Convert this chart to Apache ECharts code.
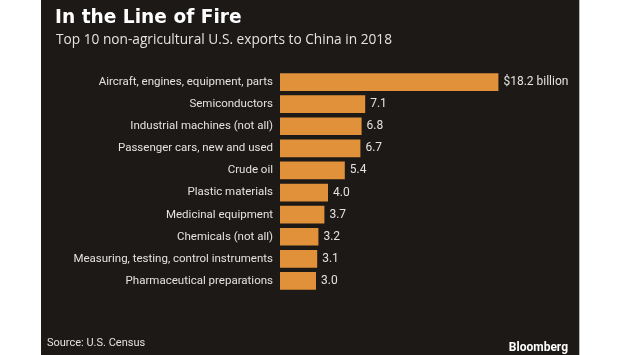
<!DOCTYPE html>
<html>
<head>
<meta charset="utf-8">
<script src="https://cdn.jsdelivr.net/npm/echarts@6/dist/echarts.min.js"></script>
<style>
html,body{margin:0;padding:0;background:#ffffff;}
#chart{width:620px;height:355px;}
</style>
</head>
<body>
<div id="chart"></div>
<script>
const categories = [
  "Aircraft, engines, equipment, parts",
  "Semiconductors",
  "Industrial machines (not all)",
  "Passenger cars, new and used",
  "Crude oil",
  "Plastic materials",
  "Medicinal equipment",
  "Chemicals (not all)",
  "Measuring, testing, control instruments",
  "Pharmaceutical preparations"
];
const values = [18.2, 7.1, 6.8, 6.7, 5.4, 4.0, 3.7, 3.2, 3.1, 3.0];
const valueLabels = ["$18.2 billion", "7.1", "6.8", "6.7", "5.4", "4.0", "3.7", "3.2", "3.1", "3.0"];

const chart = echarts.init(document.getElementById('chart'), null, {renderer: 'canvas'});
const textColor = '#e4e2df';
const font = 'Roboto';
chart.setOption({
  animation: false,
  backgroundColor: '#ffffff',
  graphic: [
    {type: 'rect', z: -10, shape: {x: 41, y: 0, width: 538, height: 355}, style: {fill: '#1c1917'}},
    {type: 'rect', z: -10, shape: {x: 579, y: 0, width: 1, height: 355}, style: {fill: '#b8b8b8'}},
    {type: 'text', left: 55, top: 9, style: {text: 'In the Line of Fire', fill: '#ffffff', font: 'bold 18.6px "DejaVu Sans"'}},
    {type: 'text', left: 56, top: 33, style: {text: 'Top 10 non-agricultural U.S. exports to China in 2018', fill: textColor, font: '13.7px "Open Sans"'}},
    {type: 'text', left: 47, top: 338, style: {text: 'Source: U.S. Census', fill: textColor, font: '11px ' + font}},
    {type: 'text', right: 52, top: 342, style: {text: 'Bloomberg', fill: '#ffffff', font: 'bold 12px ' + font}}
  ],
  grid: {left: 280, top: 71, width: 240, height: 221, containLabel: false},
  xAxis: {
    type: 'value', min: 0, max: 20, show: false
  },
  yAxis: {
    type: 'category', data: categories, inverse: true,
    axisLine: {show: false}, axisTick: {show: false},
    axisLabel: {color: textColor, fontFamily: font, fontSize: 11.5, margin: 7}
  },
  series: [{
    type: 'bar', data: values, barCategoryGap: '20%',
    itemStyle: {color: '#e0913a'},
    label: {
      show: true, position: 'right', distance: 5, color: textColor, fontFamily: font, fontSize: 12,
      formatter: p => valueLabels[p.dataIndex]
    }
  }]
});
</script>
</body>
</html>
